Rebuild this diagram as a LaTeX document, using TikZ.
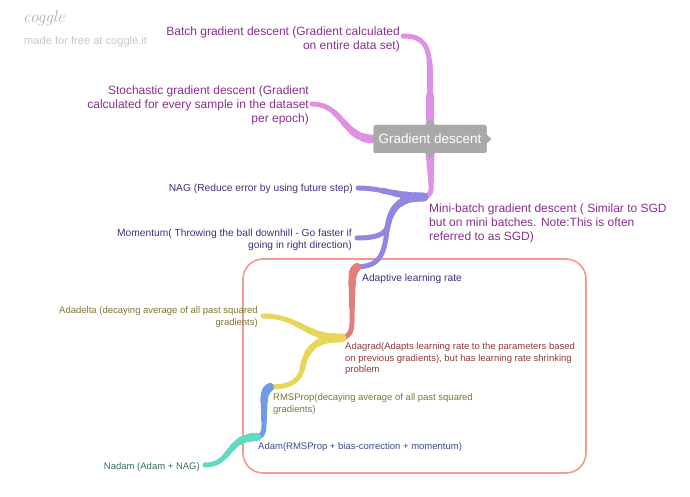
\documentclass[tikz,border=0pt]{standalone}
\usepackage{fontspec}
\setmainfont{Liberation Sans}
\newfontfamily\logofont{Latin Modern Roman}
\definecolor{purpleText}{HTML}{8B2E8E}
\definecolor{pinkBranch}{HTML}{DE90E4}
\definecolor{grayBox}{HTML}{A9A9A9}
\definecolor{indigoText}{HTML}{3A3280}
\definecolor{violetBranch}{HTML}{8F87E0}
\definecolor{redBox}{HTML}{F7988A}
\definecolor{redBranch}{HTML}{E27F7D}
\definecolor{redText}{HTML}{8E3A36}
\definecolor{yellowBranch}{HTML}{E8D65A}
\definecolor{oliveText}{HTML}{7D7530}
\definecolor{blueBranch}{HTML}{6F9BE5}
\definecolor{navyText}{HTML}{394C8C}
\definecolor{tealBranch}{HTML}{62D9C2}
\definecolor{tealText}{HTML}{347062}
\begin{document}
\begin{tikzpicture}[x=1pt,y=-1pt,
  bigtext/.style={inner sep=0pt, font=\fontsize{12}{14}\selectfont},
  smalltext/.style={inner sep=0pt, font=\fontsize{10.25}{11.5}\selectfont},
  tinytext/.style={inner sep=0pt, font=\fontsize{9.5}{11.5}\selectfont},
  branch/.style 2 args={draw=#2, line width=5pt, line cap=round,
    preaction={draw=#2, line width=8.5pt, line cap=round, dash pattern=on 0.3*#1 off 1000pt},
    preaction={draw=#2, line width=7.5pt, line cap=round, dash pattern=on 0.65*#1 off 1000pt},
    preaction={draw=#2, line width=6.5pt, line cap=round, dash pattern=on 1.0*#1 off 1000pt},
    preaction={draw=#2, line width=5.7pt, line cap=round, dash pattern=on 1.4*#1 off 1000pt}},
  gdbox/.style={fill=grayBox, rounded corners=2pt, text=white, minimum width=113pt, minimum height=28pt, inner sep=0pt, font=\fontsize{13.5}{16}\selectfont}]
\useasboundingbox (0,0) rectangle (690,497);
% logo
\node[inner sep=0pt, anchor=west, text=black!32, font=\logofont\itshape\fontsize{17}{19}\selectfont] (logo) at (23,18) {coggle};
\node[inner sep=0pt, anchor=west, text=black!22, font=\fontsize{11.1}{13}\selectfont] (made) at (24,42) {made for free at coggle.it};
% red frame
\draw[redBox, line width=1.6pt, rounded corners=20pt] (243,259) rectangle (586,473);
% tips
\coordinate (batchTip) at (403,36);
\coordinate (stochTip) at (312,104);
\coordinate (mbTip) at (424,197);
\coordinate (nagTip) at (358,188);
\coordinate (momTip) at (357,238);
\coordinate (adTip) at (357,267);
\coordinate (agTip) at (342,338);
\coordinate (addTip) at (263,316);
\coordinate (rmsTip) at (270,387);
\coordinate (adamTip) at (257,437);
\coordinate (nadamTip) at (205,465);
% texts
\node[bigtext, anchor=north east, align=right, text=purpleText] (batch) at (400,27) {Batch gradient descent (Gradient calculated\\on entire data set)};
\node[bigtext, anchor=north east, align=right, text=purpleText] (stoch) at (309,86) {Stochastic gradient descent (Gradient\\calculated for every sample in the dataset\\per epoch)};
\node[bigtext, anchor=north west, align=left, text=purpleText] (mb) at (429,204) {Mini-batch gradient descent ( Similar to SGD\\but on mini batches. Note:This is often\\referred to as SGD)};
\node[smalltext, anchor=east, text=indigoText] (nag) at (353,189) {NAG (Reduce error by using future step)};
\node[smalltext, anchor=north east, align=right, text=indigoText] (mom) at (352,229) {Momentum( Throwing the ball downhill - Go faster if\\going in right direction)};
\node[smalltext, anchor=west, text=indigoText] (adapt) at (362,279) {Adaptive learning rate};
\node[tinytext, anchor=north west, align=left, text=redText] (adagrad) at (345,342.5) {Adagrad(Adapts learning rate to the parameters based\\on previous gradients), but has learning rate shrinking\\problem};
\node[tinytext, anchor=north east, align=right, text=oliveText] (adadelta) at (258,306.5) {Adadelta (decaying average of all past squared\\gradients)};
\node[tinytext, anchor=north west, align=left, text=oliveText] (rms) at (273,393.5) {RMSProp(decaying average of all past squared\\gradients)};
\node[tinytext, anchor=west, text=navyText] (adam) at (258,447) {Adam(RMSProp + bias-correction + momentum)};
\node[tinytext, anchor=east, text=tealText] (nadam) at (200,467) {Nadam (Adam + NAG)};
% central node
\node[gdbox] (gd) at (430,139) {Gradient descent};
% branches
\draw[branch={45pt}{pinkBranch}] (gd.north) -- (430,75) .. controls (430,44) and (423,36) .. (batchTip);
\draw[branch={35pt}{pinkBranch}] (gd.west) .. controls (343,139) and (343,104) .. (stochTip);
\draw[branch={20pt}{pinkBranch}] (gd.south) -- (431,182) .. controls (432,192) and (430,196) .. (mbTip);
\draw[branch={30pt}{violetBranch}] (mbTip) .. controls (396,196) and (382,188) .. (nagTip);
\draw[branch={35pt}{violetBranch}] (mbTip) .. controls (398,197) and (390,210) .. (388,225) .. controls (386,235) and (375,238) .. (momTip);
\draw[branch={40pt}{violetBranch}] (mbTip) .. controls (398,197) and (390,210) .. (387,230) .. controls (384,258) and (378,266) .. (adTip);
\draw[branch={30pt}{redBranch}] (adTip) .. controls (352,270) and (352,278) .. (352,295) -- (352,322) .. controls (352,333) and (348,337) .. (agTip);
\draw[branch={35pt}{yellowBranch}] (agTip) .. controls (305,338) and (300,316) .. (addTip);
\draw[branch={40pt}{yellowBranch}] (agTip) .. controls (310,338) and (305,355) .. (302,370) .. controls (298,384) and (285,387) .. (rmsTip);
\draw[branch={25pt}{blueBranch}] (rmsTip) .. controls (265,390) and (264,395) .. (264,405) -- (264,425) .. controls (264,434) and (261,437) .. (adamTip);
\draw[branch={28pt}{tealBranch}] (adamTip) .. controls (226,437) and (232,465) .. (nadamTip);
% central node redrawn on top with notches
\node[gdbox] at (gd.center) {Gradient descent};
\fill[grayBox] (425,125) -- (430,119.5) -- (435,125) -- cycle;
\fill[grayBox] (425,153) -- (430,158.5) -- (435,153) -- cycle;
\fill[grayBox] (486,134) -- (491.5,139) -- (486,144) -- cycle;
\end{tikzpicture}
\end{document}
